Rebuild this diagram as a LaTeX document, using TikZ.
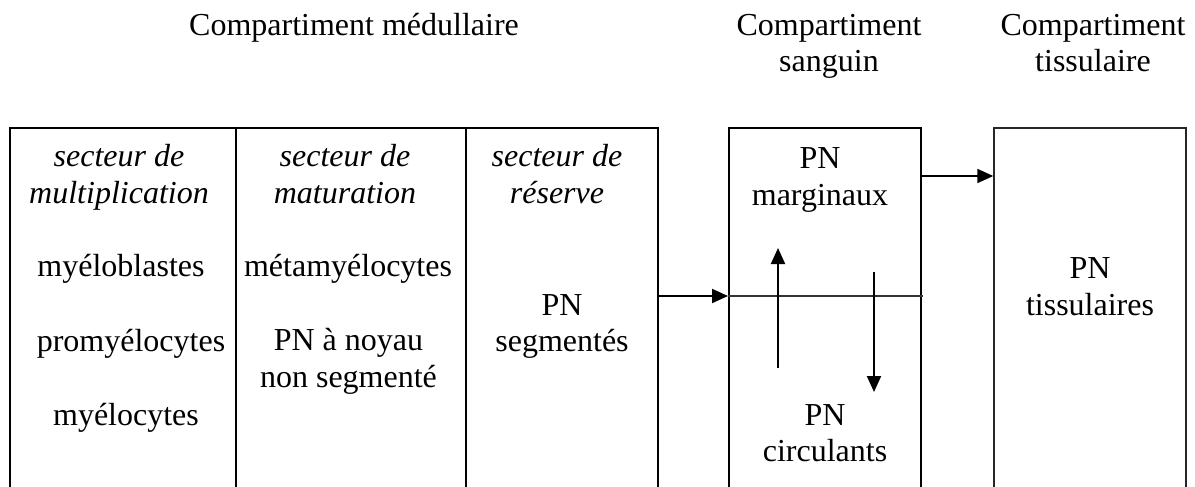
\documentclass[tikz,border=0pt]{standalone}
\usepackage{fontspec}
\setmainfont{Liberation Serif}
\usetikzlibrary{arrows.meta,fit}
\begin{document}
\begin{tikzpicture}[x=0.375pt,y=-0.375pt,
  txt/.style={inner sep=0pt,anchor=base,align=center,font=\fontsize{12}{13.8}\selectfont},
  itxt/.style={txt,font=\fontsize{12}{13.8}\selectfont\itshape},
  boxline/.style={draw=black,line width=0.75pt,inner sep=0pt},
  thinbox/.style={draw=black!85,line width=0.55pt,inner sep=0pt},
  divline/.style={draw=black,line width=0.75pt},
  midline/.style={draw=black!80,line width=0.6pt},
  arr/.style={draw=black,line width=0.75pt,-{Triangle[length=6pt,width=5.25pt]}}]
\useasboundingbox (0,0) rectangle (1195,486);
\clip (0,0) rectangle (1195,486);
\fill[white] (0,0) rectangle (1195,486);
% boxes
\node[boxline,fit={(10,128) (658,530)}] (med) {};
\node[boxline,fit={(729,128) (921,530)}] (sang) {};
\node[thinbox,fit={(994,128) (1186,530)}] (tiss) {};
% dividers
\coordinate (d1) at (236,128);
\coordinate (d2) at (466,128);
\draw[divline] (d1) -- (d1 |- med.south);
\draw[divline] (d2) -- (d2 |- med.south);
% helper coordinates
\coordinate (hy) at (0,296);
\coordinate (ty) at (0,176);
\coordinate (hend) at (923,296);
\coordinate (upS) at (778,368);
\coordinate (upE) at (778,248);
\coordinate (dnS) at (874,272);
\coordinate (dnE) at (874,392);
% connectors
\draw[arr] (med.east |- hy) -- (sang.west |- hy);
\draw[midline] (sang.west |- hy) -- (hend);
\draw[arr] (upS) -- (upE);
\draw[arr] (dnS) -- (dnE);
\draw[arr] (sang.east |- ty) -- (tiss.west |- ty);
% titles
\node[txt] (tmed) at (354,35) {Compartiment médullaire};
\node[txt] (tsang) at (829,71.8) {Compartiment\\sanguin};
\node[txt] (ttiss) at (1093,71.8) {Compartiment\\tissulaire};
% column 1
\node[itxt] (c1a) at (119,203.5) {secteur de\\multiplication};
\node[txt] (c1b) at (121,276.7) {myéloblastes};
\node[txt] (c1c) at (131,351) {promyélocytes};
\node[txt] (c1d) at (126,425) {myélocytes};
% column 2
\node[itxt] (c2a) at (345,203.5) {secteur de\\maturation};
\node[txt] (c2b) at (348,276.7) {métamyélocytes};
\node[txt] (c2c) at (348.5,387.5) {PN à noyau\\non segmenté};
% column 3
\node[itxt] (c3a) at (557,203.5) {secteur de\\réserve};
\node[txt] (c3b) at (562,351.8) {PN\\segmentés};
% sanguin
\node[txt] (s1) at (820,205) {PN\\marginaux};
\node[txt] (s2) at (825,461.8) {PN\\circulants};
% tissulaire
\node[txt] (t1) at (1090,315) {PN\\tissulaires};
\end{tikzpicture}
\end{document}
